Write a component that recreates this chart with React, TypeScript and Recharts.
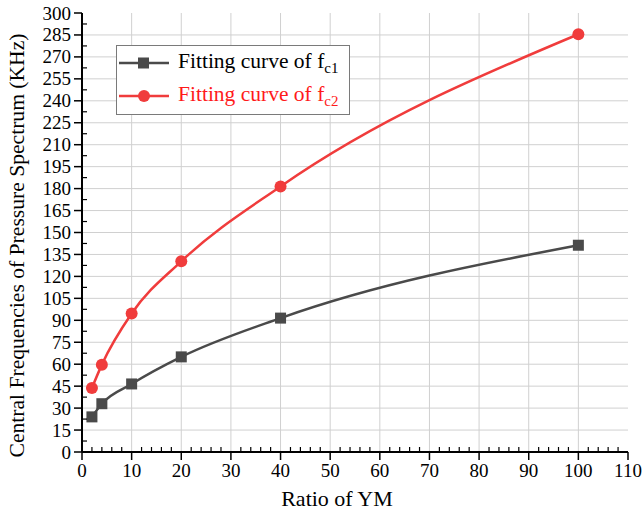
import React from 'react';
import { LineChart, Line, XAxis, YAxis, CartesianGrid } from 'recharts';

const ratios = [2, 4, 10, 20, 40, 100];
const fc1 = [24, 33, 46.5, 65, 91.5, 141.3];
const fc2 = [43.7, 59.7, 94.6, 130.3, 181.5, 285.5];

const xTicks = [0, 10, 20, 30, 40, 50, 60, 70, 80, 90, 100, 110];
const yTicks = [0, 15, 30, 45, 60, 75, 90, 105, 120, 135, 150, 165, 180, 195, 210, 225, 240, 255, 270, 285, 300];
const xMinor = [2, 4, 6, 8, 12, 14, 16, 18, 22, 24, 26, 28, 32, 34, 36, 38, 42, 44, 46, 48, 52, 54, 56, 58, 62, 64, 66, 68, 72, 74, 76, 78, 82, 84, 86, 88, 92, 94, 96, 98, 102, 104, 106, 108];
const yMinor = [7.5, 22.5, 37.5, 52.5, 67.5, 82.5, 97.5, 112.5, 127.5, 142.5, 157.5, 172.5, 187.5, 202.5, 217.5, 232.5, 247.5, 262.5, 277.5, 292.5];
const gridX = [10, 20, 30, 40, 50, 60, 70, 80, 90, 100];
const gridY = [15, 30, 45, 60, 75, 90, 105, 120, 135, 150, 165, 180, 195, 210, 225, 240, 255, 270, 285];

const allX = [...xTicks, ...xMinor].sort((a, b) => a - b);
const allY = [...yTicks, ...yMinor].sort((a, b) => a - b);

const data = ratios.map((r, i) => ({ x: r, fc1: fc1[i], fc2: fc2[i] }));

const GRAY = '#4a4a4a';
const RED = '#f03c3c';
const FONT = "'Liberation Serif', 'Times New Roman', serif";
const MAJOR = 8;
const MINOR = 5;

const SquareDot = (props: any) => {
  const { cx, cy } = props;
  if (cx == null || cy == null) return null;
  return <rect x={cx - 5.5} y={cy - 5.5} width={11} height={11} fill={GRAY} />;
};
const CircleDot = (props: any) => {
  const { cx, cy } = props;
  if (cx == null || cy == null) return null;
  return <circle cx={cx} cy={cy} r={6} fill={RED} />;
};

const XTick = (props: any) => {
  const { x, y, payload } = props;
  const axisY = y - MAJOR;
  const v = payload.value;
  if (!xTicks.includes(v)) {
    return <line x1={x} y1={axisY} x2={x} y2={axisY - MINOR} stroke="#000" strokeWidth={1.2} />;
  }
  return (
    <g>
      <line x1={x} y1={axisY} x2={x} y2={axisY + MAJOR} stroke="#000" strokeWidth={1.5} />
      <text x={x} y={axisY + MAJOR + 17} textAnchor="middle" style={{ fontFamily: FONT, fontSize: 19 }} fill="#000">
        {v}
      </text>
    </g>
  );
};
const YTick = (props: any) => {
  const { x, y, payload } = props;
  const axisX = x + MAJOR;
  const v = payload.value;
  if (!yTicks.includes(v)) {
    return <line x1={axisX} y1={y} x2={axisX + MINOR} y2={y} stroke="#000" strokeWidth={1.2} />;
  }
  return (
    <g>
      <line x1={axisX} y1={y} x2={axisX - MAJOR} y2={y} stroke="#000" strokeWidth={1.5} />
      <text x={axisX - MAJOR - 3} y={y + 6.5} textAnchor="end" style={{ fontFamily: FONT, fontSize: 19 }} fill="#000">
        {v}
      </text>
    </g>
  );
};

const YLabel = (props: any) => {
  const vb = props.viewBox || {};
  const cx = (vb.x || 0) + 17;
  const cy = (vb.y || 0) + (vb.height || 0) / 2 + 13;
  return (
    <text x={cx} y={cy} transform={`rotate(-90 ${cx} ${cy})`} textAnchor="middle" dominantBaseline="central" style={{ fontFamily: FONT, fontSize: 21.6 }} fill="#000">
      Central Frequencies of Pressure Spectrum (KHz)
    </text>
  );
};

const XLabel = (props: any) => {
  const vb = props.viewBox || {};
  const cx = (vb.x || 0) + (vb.width || 0) / 2 - 18;
  const cy = (vb.y || 0) + 54;
  return (
    <text x={cx} y={cy} textAnchor="middle" style={{ fontFamily: FONT, fontSize: 22 }} fill="#000">
      Ratio of YM
    </text>
  );
};

const LegendBox = () => {
  const row = (color: string, marker: React.ReactNode, sub: string) => (
    <div style={{ display: 'flex', alignItems: 'center', height: 33 }}>
      <svg width={52} height={20} style={{ marginLeft: 2 }}>
        <line x1={0} y1={10} x2={50} y2={10} stroke={color} strokeWidth={2.5} />
        {marker}
      </svg>
      <span style={{ marginLeft: 7, color: color === GRAY ? '#000' : '#ff1a1a', fontSize: 21.5, fontFamily: FONT, whiteSpace: 'nowrap' }}>
        Fitting curve of f<sub style={{ fontSize: 15, verticalAlign: '-5px' }}>{sub}</sub>
      </span>
    </div>
  );
  return (
    <div style={{ position: 'absolute', left: 116, top: 45, border: '1.5px solid #7a7a7a', background: '#fff', width: 234, height: 70, boxSizing: 'border-box' }}>
      {row(GRAY, <rect x={19} y={4.5} width={11} height={11} fill={GRAY} />, 'c1')}
      {row(RED, <circle cx={25} cy={10} r={6} fill={RED} />, 'c2')}
    </div>
  );
};

export default function App() {
  return (
    <div style={{ position: 'absolute', left: 0, top: 0, width: 644, height: 514, background: '#fff', fontFamily: FONT }}>
      <LineChart width={644} height={514} data={data} margin={{ top: 13, right: 16, bottom: 0, left: 0 }}>
        <CartesianGrid stroke="#d0d0d0" strokeWidth={1} horizontalValues={gridY} verticalValues={gridX} />
        <XAxis
          dataKey="x"
          type="number"
          domain={[0, 110]}
          ticks={allX}
          interval={0}
          height={62}
          tickSize={MAJOR}
          tickMargin={0}
          axisLine={{ stroke: '#000', strokeWidth: 2 }}
          tickLine={false}
          tick={<XTick />}
          label={<XLabel />}
        />
        <YAxis
          type="number"
          domain={[0, 300]}
          ticks={allY}
          interval={0}
          width={82}
          tickSize={MAJOR}
          tickMargin={0}
          axisLine={{ stroke: '#000', strokeWidth: 2 }}
          tickLine={false}
          tick={<YTick />}
          label={<YLabel />}
        />
        <Line type="monotone" dataKey="fc1" stroke={GRAY} strokeWidth={2.5} dot={<SquareDot />} activeDot={false} isAnimationActive={false} />
        <Line type="monotone" dataKey="fc2" stroke={RED} strokeWidth={2.5} dot={<CircleDot />} activeDot={false} isAnimationActive={false} />
      </LineChart>
      <LegendBox />
    </div>
  );
}
